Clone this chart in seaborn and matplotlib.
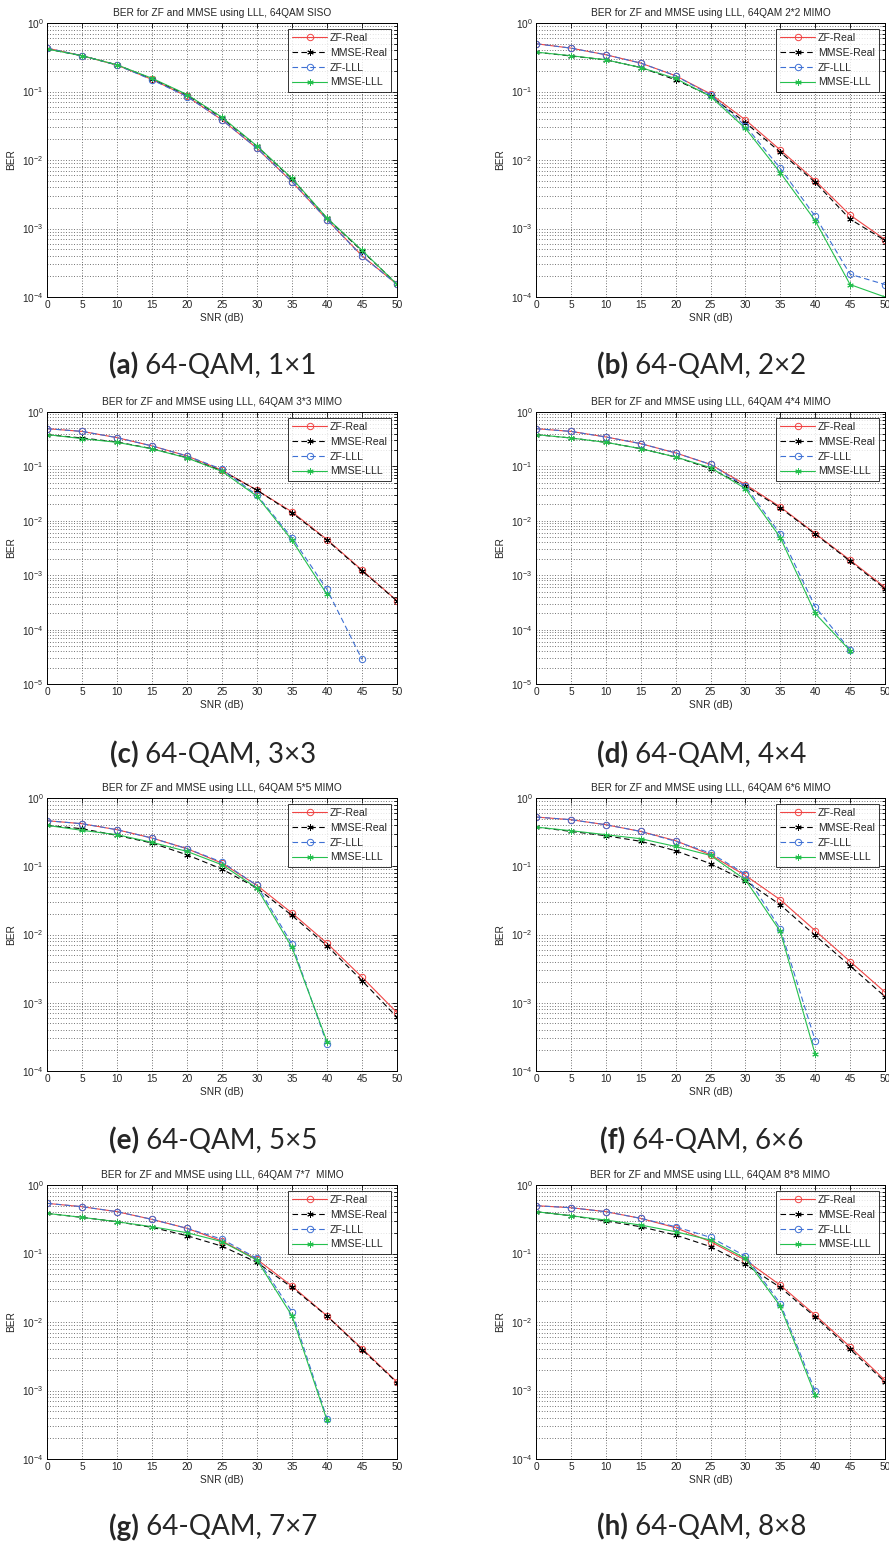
import matplotlib
matplotlib.use("Agg")
import matplotlib.pyplot as plt
import seaborn as sns
from matplotlib.ticker import LogLocator, NullFormatter, FixedLocator

# SNR grid shared by every panel
SNR_DB = [0, 5, 10, 15, 20, 25, 30, 35, 40, 45, 50]

TITLES = [
    "BER for ZF and MMSE using LLL, 64QAM SISO",
    "BER for ZF and MMSE using LLL, 64QAM 2*2 MIMO",
    "BER for ZF and MMSE using LLL, 64QAM 3*3 MIMO",
    "BER for ZF and MMSE using LLL, 64QAM 4*4 MIMO",
    "BER for ZF and MMSE using LLL, 64QAM 5*5 MIMO",
    "BER for ZF and MMSE using LLL, 64QAM 6*6 MIMO",
    "BER for ZF and MMSE using LLL, 64QAM 7*7  MIMO",
    "BER for ZF and MMSE using LLL, 64QAM 8*8 MIMO",
]
TAGS = ["(a)", "(b)", "(c)", "(d)", "(e)", "(f)", "(g)", "(h)"]
CAPTIONS = ["64-QAM, 1\u00d71", "64-QAM, 2\u00d72", "64-QAM, 3\u00d73", "64-QAM, 4\u00d74",
            "64-QAM, 5\u00d75", "64-QAM, 6\u00d76", "64-QAM, 7\u00d77", "64-QAM, 8\u00d78"]
YMIN_EXP = [-4, -4, -5, -5, -4, -4, -4, -4]

# BER curves, one list per antenna configuration
ZF_REAL = [
    [0.43, 0.333, 0.243, 0.150, 0.085, 0.0385, 0.0148, 0.0048, 0.00135, 0.00040, 0.000153],
    [0.498, 0.43, 0.344, 0.26, 0.17, 0.0924, 0.0385, 0.014, 0.00499, 0.00157, 0.00069],
    [0.494, 0.44, 0.338, 0.238, 0.156, 0.085, 0.0365, 0.0146, 0.00453, 0.00124, 0.000339],
    [0.494, 0.44, 0.348, 0.262, 0.177, 0.109, 0.0463, 0.018, 0.00584, 0.00189, 0.000596],
    [0.465, 0.42, 0.343, 0.259, 0.181, 0.111, 0.0524, 0.0206, 0.00746, 0.00237, 0.000717],
    [0.526, 0.481, 0.406, 0.324, 0.237, 0.147, 0.0734, 0.0323, 0.0114, 0.00402, 0.00143],
    [0.54, 0.482, 0.408, 0.315, 0.233, 0.152, 0.0819, 0.0334, 0.0123, 0.0041, 0.00133],
    [0.499, 0.466, 0.408, 0.326, 0.238, 0.149, 0.0801, 0.0345, 0.0126, 0.00434, 0.00141],
]
MMSE_REAL = [
    [0.417, 0.333, 0.245, 0.153, 0.089, 0.041, 0.0158, 0.0053, 0.00141, 0.00047, 0.000155],
    [0.375, 0.33, 0.29, 0.224, 0.148, 0.0865, 0.0352, 0.013, 0.00471, 0.00137, 0.00067],
    [0.384, 0.333, 0.281, 0.212, 0.145, 0.0826, 0.0365, 0.014, 0.0044, 0.0012, 0.000335],
    [0.384, 0.333, 0.277, 0.212, 0.149, 0.091, 0.0432, 0.0173, 0.00568, 0.00181, 0.000563],
    [0.397, 0.355, 0.283, 0.219, 0.147, 0.0908, 0.0478, 0.019, 0.00682, 0.00211, 0.000613],
    [0.375, 0.324, 0.28, 0.232, 0.169, 0.109, 0.0613, 0.0272, 0.00967, 0.00347, 0.00123],
    [0.385, 0.337, 0.291, 0.241, 0.182, 0.128, 0.0741, 0.0319, 0.0122, 0.00396, 0.0013],
    [0.408, 0.356, 0.298, 0.246, 0.186, 0.126, 0.0692, 0.0319, 0.0119, 0.00401, 0.00133],
]
ZF_LLL = [
    [0.43, 0.333, 0.243, 0.148, 0.0845, 0.0385, 0.0148, 0.00482, 0.00135, 0.000394, 0.000153],
    [0.498, 0.43, 0.344, 0.26, 0.17, 0.089, 0.0315, 0.00755, 0.00151, 0.000215, 0.000152],
    [0.494, 0.44, 0.338, 0.238, 0.156, 0.0886, 0.0295, 0.00486, 0.000547, 0.0000284],
    [0.494, 0.44, 0.348, 0.262, 0.177, 0.109, 0.0432, 0.00568, 0.000263, 0.000042],
    [0.465, 0.42, 0.343, 0.259, 0.181, 0.115, 0.0524, 0.00722, 0.000246],
    [0.526, 0.481, 0.406, 0.324, 0.232, 0.156, 0.0767, 0.0121, 0.000279],
    [0.54, 0.482, 0.408, 0.315, 0.233, 0.162, 0.0848, 0.0141, 0.000389],
    [0.499, 0.466, 0.408, 0.326, 0.246, 0.172, 0.0917, 0.0186, 0.000975],
]
MMSE_LLL = [
    [0.417, 0.333, 0.245, 0.156, 0.0904, 0.042, 0.016, 0.0054, 0.00142, 0.000482, 0.000153],
    [0.376, 0.333, 0.29, 0.224, 0.155, 0.0845, 0.029, 0.00653, 0.0013, 0.000152, 0.0001],
    [0.384, 0.324, 0.277, 0.21, 0.143, 0.081, 0.0283, 0.0044, 0.000443],
    [0.384, 0.333, 0.277, 0.212, 0.149, 0.095, 0.0391, 0.00493, 0.000198, 0.000041],
    [0.397, 0.336, 0.29, 0.224, 0.165, 0.105, 0.0478, 0.00645, 0.000269],
    [0.375, 0.332, 0.29, 0.253, 0.195, 0.144, 0.0634, 0.0111, 0.000175],
    [0.385, 0.337, 0.291, 0.246, 0.201, 0.149, 0.0801, 0.0123, 0.000367],
    [0.408, 0.356, 0.308, 0.26, 0.208, 0.157, 0.0848, 0.017, 0.000853],
]

sns.set_style("white")
plt.rcParams["font.family"] = ["Liberation Sans", "DejaVu Sans"]
plt.rcParams["mathtext.default"] = "regular"

W, H = 889, 1545
fig = plt.figure(figsize=(W / 100, H / 100), dpi=100)

COL_X = [(47, 397), (536, 885)]
ROW_Y = [(23, 297), (412, 684), (798, 1071), (1185, 1459)]
CAP_Y = [366, 755, 1141, 1527]
CAP_X = [213, 702]

SERIES = [
    ("ZF-Real", ZF_REAL, dict(color="#f04545", marker="o", linestyle="-", mfc="none")),
    ("MMSE-Real", MMSE_REAL, dict(color="black", marker=(6, 2, 0), linestyle=(0, (5, 3)), mfc="black")),
    ("ZF-LLL", ZF_LLL, dict(color="#3e70d4", marker="o", linestyle=(0, (5, 3)), mfc="none")),
    ("MMSE-LLL", MMSE_LLL, dict(color="#25c04e", marker=(6, 2, 0), linestyle="-", mfc="#25c04e")),
]

FS = 7.3
grid_kw = dict(color="#444444", linestyle=(0, (1, 2.2)), linewidth=0.6)

for i in range(8):
    r, c = divmod(i, 2)
    x0, x1 = COL_X[c]
    yt, yb = ROW_Y[r]
    ax = fig.add_axes([x0 / W, 1 - yb / H, (x1 - x0) / W, (yb - yt) / H])
    for name, data, st in SERIES:
        vals = data[i]
        sns.lineplot(x=SNR_DB[:len(vals)], y=vals, ax=ax, color=st["color"],
                     marker=st["marker"], linestyle=st["linestyle"], linewidth=0.8,
                     markersize=4.6, markerfacecolor=st["mfc"],
                     markeredgecolor=st["color"], markeredgewidth=0.7,
                     errorbar=None, label=name)
    ax.set_yscale("log")
    ax.set_xlim(0, 50)
    ax.set_ylim(10.0 ** YMIN_EXP[i], 1)
    ax.xaxis.set_major_locator(FixedLocator(SNR_DB))
    ax.yaxis.set_major_locator(LogLocator(base=10, numticks=12))
    ax.yaxis.set_minor_locator(LogLocator(base=10, subs=range(2, 10), numticks=12))
    ax.yaxis.set_minor_formatter(NullFormatter())
    ax.grid(True, which="major", **grid_kw)
    ax.grid(True, which="minor", axis="y", **grid_kw)
    ax.tick_params(which="both", direction="in", top=True, right=True,
                   labelsize=FS, pad=2.5, width=0.6, color="black")
    ax.tick_params(which="major", length=3.5)
    ax.tick_params(which="minor", length=2)
    for sp in ax.spines.values():
        sp.set_color("black")
        sp.set_linewidth(0.7)
    ax.set_title(TITLES[i], fontsize=FS, pad=5)
    ax.set_xlabel("SNR (dB)", fontsize=FS, labelpad=2)
    ax.set_ylabel("BER", fontsize=FS, labelpad=4)
    leg = ax.legend(loc="upper right", fontsize=7.6, frameon=True, fancybox=False,
                    handlelength=3.3, handletextpad=0.3, borderpad=0.4,
                    labelspacing=0.45, borderaxespad=0.55)
    leg.get_frame().set_edgecolor("black")
    leg.get_frame().set_linewidth(0.7)

# sub-figure captions: bold tag followed by regular description
fig.canvas.draw()
renderer = fig.canvas.get_renderer()
CAP_FS = 20
for i in range(8):
    r, c = divmod(i, 2)
    y = 1 - CAP_Y[r] / H
    t1 = fig.text(0, y, TAGS[i], fontsize=CAP_FS, fontweight="bold", family="Lato", va="center")
    t2 = fig.text(0, y, " " + CAPTIONS[i], fontsize=CAP_FS, family="Lato", va="center")
    w1 = t1.get_window_extent(renderer).width
    w2 = t2.get_window_extent(renderer).width
    left = CAP_X[c] - (w1 + w2) / 2
    t1.set_x(left / W)
    t2.set_x((left + w1) / W)

fig.savefig("out.png", dpi=100)
